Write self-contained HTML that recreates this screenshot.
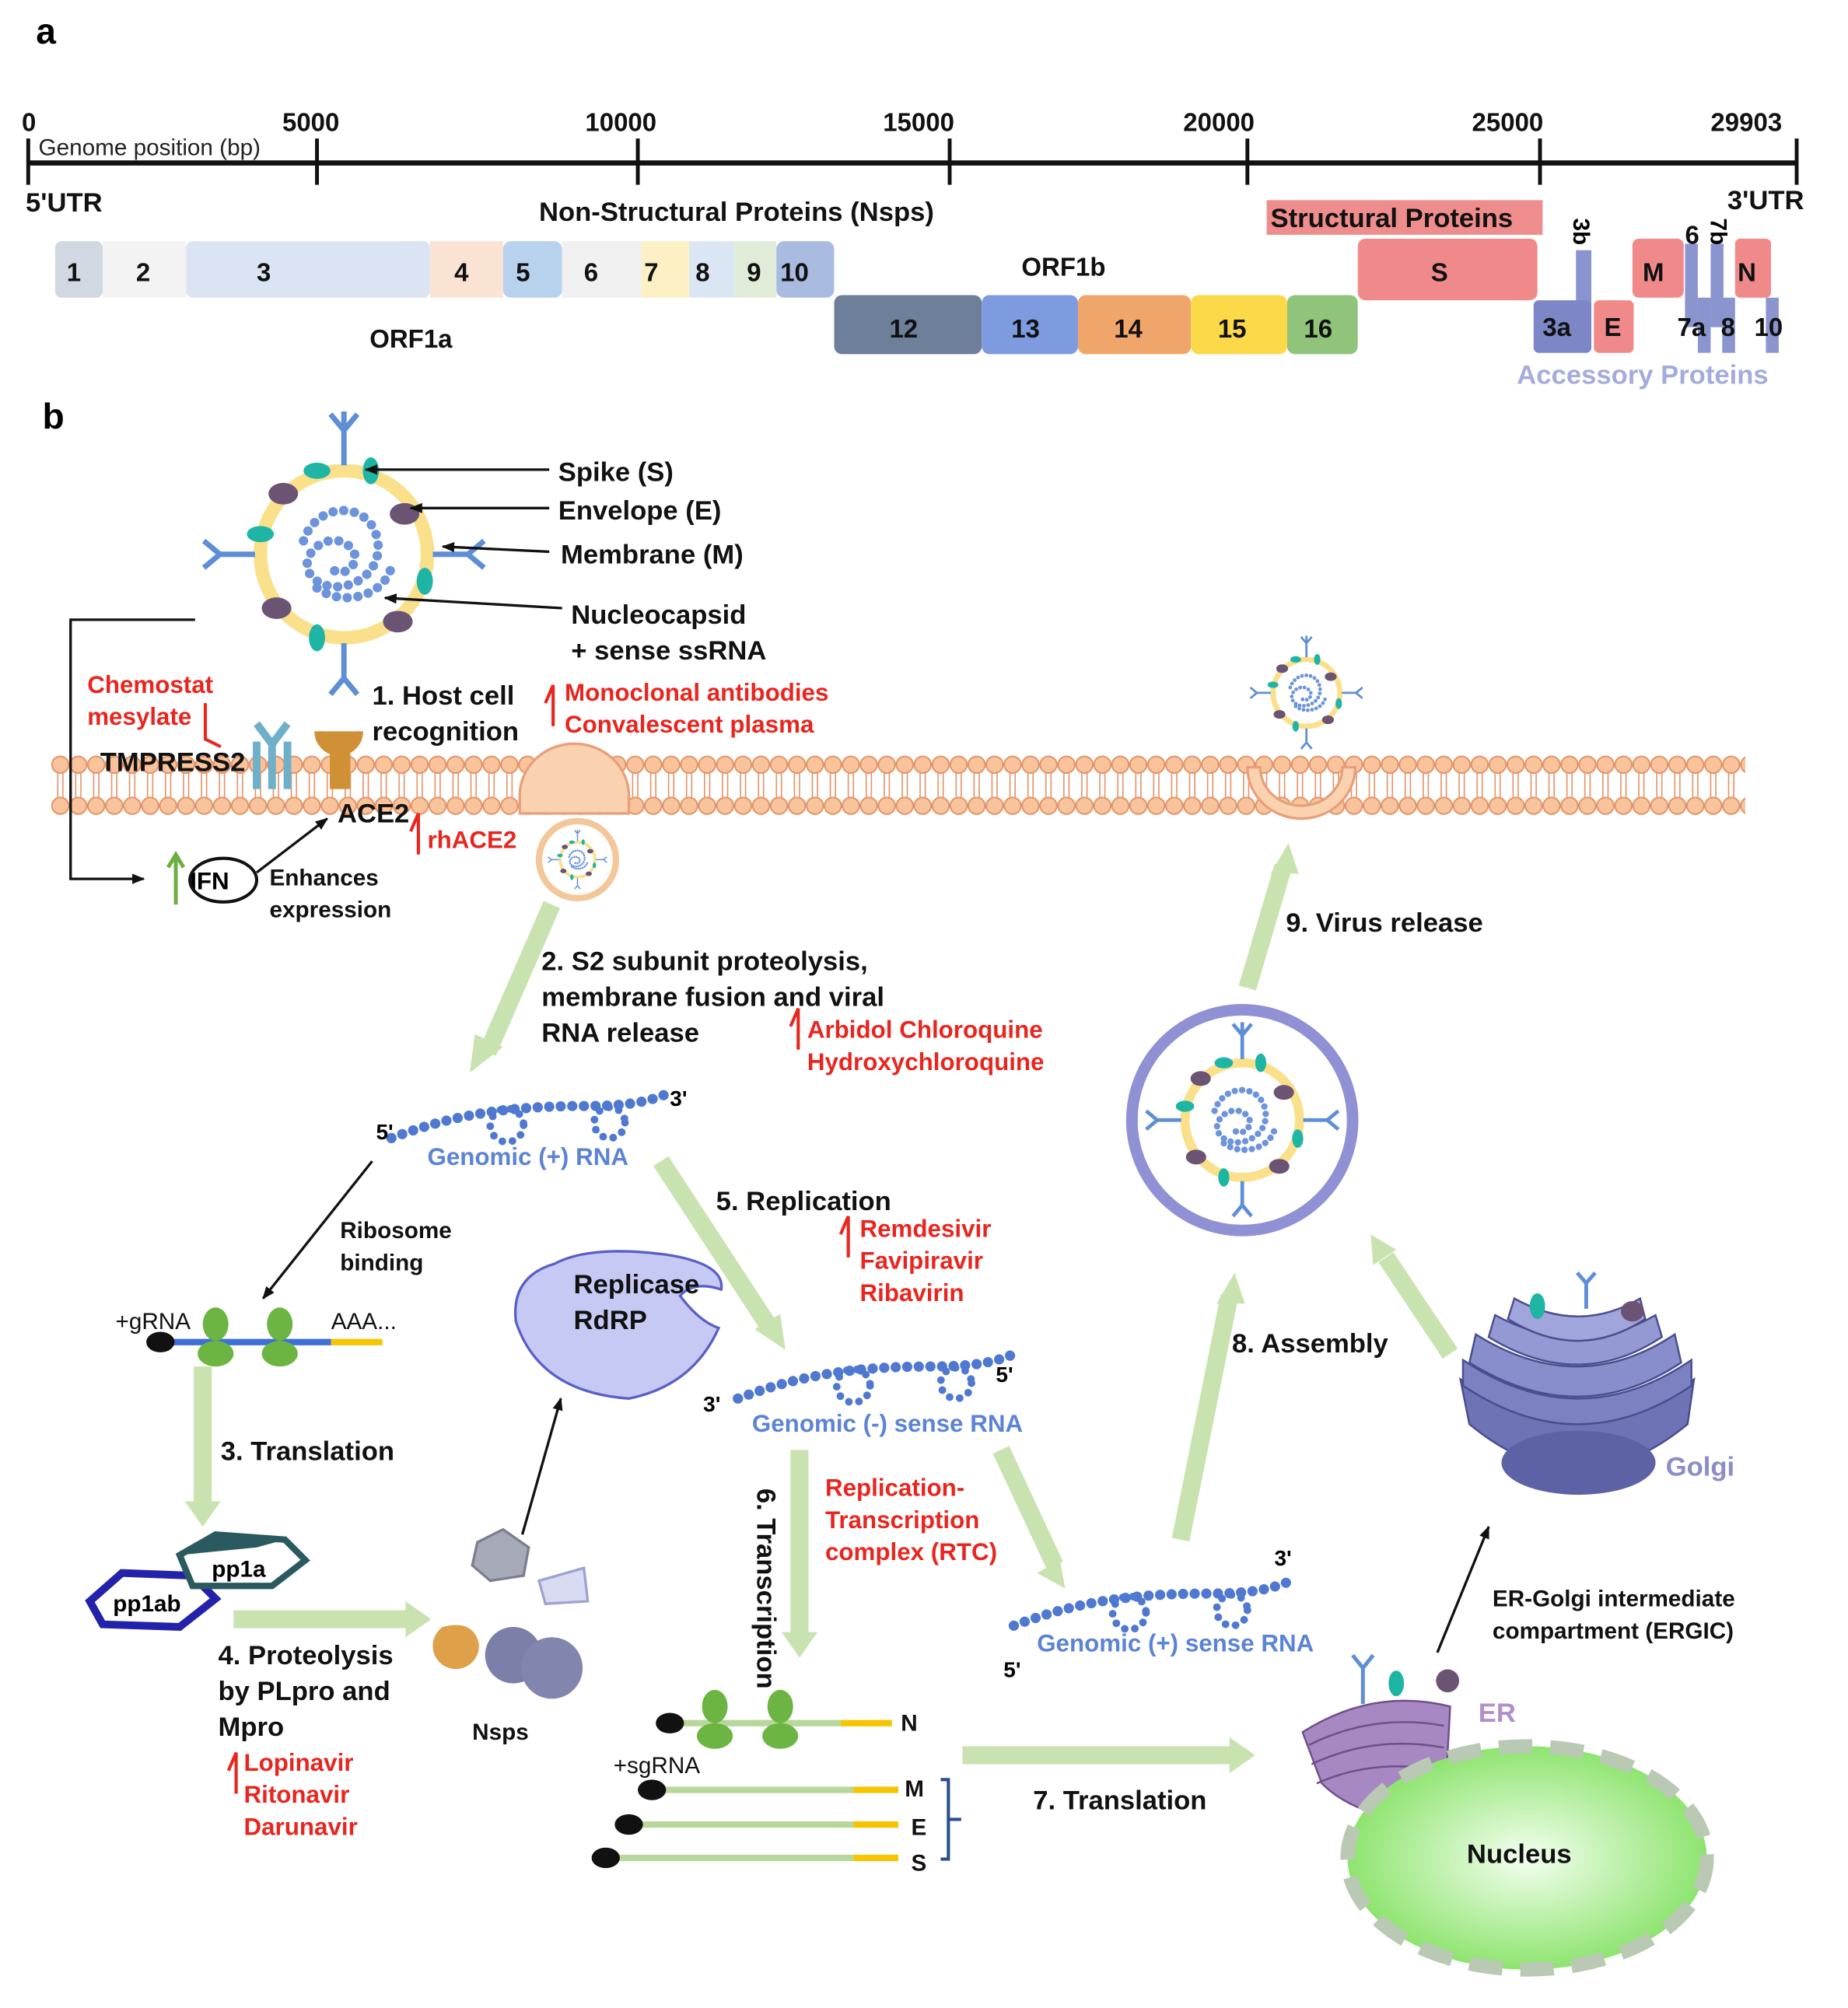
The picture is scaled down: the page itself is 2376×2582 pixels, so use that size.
<!DOCTYPE html>
<html><head><meta charset="utf-8"><style>
html,body{margin:0;padding:0;background:#fff}
svg{display:block}
text{font-family:"Liberation Sans",sans-serif;font-weight:bold}
.r{fill:#e8261f;font-size:19px}
.k{fill:#111;font-size:21px}
.bl{fill:#5b83d6;font-size:19px}
</style></head><body>
<svg width="2376" height="2582" viewBox="0 0 1440 1565" preserveAspectRatio="none" xmlns="http://www.w3.org/2000/svg">
<defs>
<pattern id="lip" width="14" height="48" patternUnits="userSpaceOnUse" x="40" y="588">
<circle cx="7" cy="8" r="6.5" fill="#f9c49c" stroke="#e2946a" stroke-width="1.2"/>
<circle cx="7" cy="40" r="6.5" fill="#f9c49c" stroke="#e2946a" stroke-width="1.2"/>
<path d="M5 14v10M9 14v10M5 24v10M9 24v10" stroke="#e2946a" stroke-width="1"/>
</pattern>
<radialGradient id="nuc" cx="50%" cy="50%" r="50%"><stop offset="0" stop-color="#f4fff0"/><stop offset="1" stop-color="#8ee46f"/></radialGradient>
<marker id="ah" markerWidth="10" markerHeight="10" refX="9" refY="5" orient="auto" markerUnits="userSpaceOnUse"><path d="M0 1L10 5L0 9z" fill="#111"/></marker>
<g id="virus">
<circle r="62" fill="none" stroke="#fbe08c" stroke-width="10"/>
<g fill="none" stroke="#6c93dc" stroke-width="7" stroke-dasharray="0 8" stroke-linecap="round">
<path d="M-30 -10 C-20 -40 20 -40 25 -10 C30 20 -10 35 -25 15 C-35 0 -10 -20 5 -5 C15 5 0 20 -10 10"/>
<path d="M-20 25 C0 40 30 30 35 10"/>
</g>
<g stroke="#5e8ed6" stroke-width="4" fill="none">
<path d="M0 -66V-92M0 -92l-10 -12M0 -92l10 -12M0 -92V-106"/>
<path d="M0 66V92M0 92l-10 12M0 92l10 12"/>
<path d="M-66 0H-92M-92 0l-12 -10M-92 0l-12 10"/>
<path d="M66 0H92M92 0l12 -10M92 0l12 10"/>
</g>
<g fill="#6b5473"><ellipse cx="-45" cy="-45" rx="11" ry="8"/><ellipse cx="45" cy="-30" rx="11" ry="8"/><ellipse cx="-50" cy="40" rx="11" ry="8"/><ellipse cx="40" cy="50" rx="11" ry="8"/></g>
<g fill="#1fb5a5"><ellipse cx="-20" cy="-62" rx="10" ry="6"/><ellipse cx="60" cy="20" rx="6" ry="10"/><ellipse cx="-62" cy="-15" rx="10" ry="6"/><ellipse cx="-20" cy="62" rx="6" ry="10"/><ellipse cx="20" cy="-62" rx="6" ry="10"/></g>
</g>
<g id="rna">
<path d="M0 5 C40 -10 80 -20 150 -20 C180 -20 200 -22 220 -32" fill="none" stroke="#4f78d1" stroke-width="8" stroke-dasharray="0 9" stroke-linecap="round"/>
<circle cx="90" cy="-5" r="13" fill="none" stroke="#4f78d1" stroke-width="6" stroke-dasharray="0 8" stroke-linecap="round"/>
<circle cx="170" cy="-7" r="12" fill="none" stroke="#4f78d1" stroke-width="6" stroke-dasharray="0 8" stroke-linecap="round"/>
</g>
</defs>
<rect width="1440" height="1565" fill="#fff"/>
<text x="28" y="34" style="font-size:28px">a</text>
<g style="font-size:20px" fill="#111">
<text x="17" y="102">0</text><text x="220" y="102">5000</text><text x="456" y="102">10000</text><text x="688" y="102">15000</text><text x="922" y="102">20000</text><text x="1147" y="102">25000</text><text x="1333" y="102">29903</text>
</g>
<text x="30" y="121" style="font-size:18px;font-weight:normal" fill="#222">Genome position (bp)</text>
<line x1="22" y1="127" x2="1400" y2="127" stroke="#111" stroke-width="4"/>
<g stroke="#111" stroke-width="3"><path d="M22 108v36M247 108v36M497 108v36M740 108v36M972 108v36M1200 108v36M1400 108v36"/></g>
<text x="20" y="165" class="k">5'UTR</text><text x="1346" y="163" class="k">3'UTR</text>
<text x="420" y="172" class="k">Non-Structural Proteins (Nsps)</text>
<rect x="987" y="156" width="215" height="27" fill="#ef8d8d"/><text x="990" y="177" class="k">Structural Proteins</text>
<g>
<rect x="43" y="188" width="37" height="44" rx="5" fill="#d2d8e2"/><rect x="80" y="188" width="65" height="44" fill="#f3f3f3"/><rect x="145" y="188" width="190" height="44" rx="5" fill="#dbe4f2"/>
<rect x="335" y="188" width="57" height="44" fill="#fbe3d4"/><rect x="392" y="188" width="46" height="44" rx="6" fill="#b8d2ee"/><rect x="438" y="188" width="62" height="44" fill="#f0f0f0"/>
<rect x="500" y="188" width="37" height="44" fill="#fdf0c4"/><rect x="537" y="188" width="35" height="44" fill="#dbe6f4"/><rect x="572" y="188" width="33" height="44" fill="#e0ecd8"/><rect x="605" y="188" width="45" height="44" rx="6" fill="#a9bbe0"/>
<rect x="650" y="230" width="115" height="46" rx="6" fill="#6e7f9a"/><rect x="765" y="230" width="75" height="46" rx="6" fill="#7f9be0"/><rect x="840" y="230" width="88" height="46" rx="6" fill="#f0a56a"/><rect x="928" y="230" width="75" height="46" rx="6" fill="#fbd949"/><rect x="1003" y="230" width="55" height="46" rx="6" fill="#8fc47a"/>
<rect x="1058" y="186" width="140" height="48" rx="6" fill="#f08a8a"/>
<rect x="1228" y="195" width="12" height="55" fill="#8a95cf"/>
<rect x="1195" y="234" width="45" height="41" rx="4" fill="#7d87c7"/><rect x="1242" y="234" width="31" height="41" rx="4" fill="#f08a8a"/>
<rect x="1272" y="186" width="40" height="46" rx="5" fill="#f08a8a"/><rect x="1352" y="186" width="28" height="46" rx="4" fill="#f08a8a"/>
<rect x="1313" y="190" width="10" height="65" fill="#8a95cf"/><rect x="1333" y="190" width="10" height="65" fill="#8a95cf"/>
<rect x="1323" y="232" width="10" height="43" fill="#8a95cf"/><rect x="1342" y="232" width="10" height="43" fill="#8a95cf"/><rect x="1376" y="232" width="10" height="43" fill="#8a95cf"/>
</g>
<g class="k" style="font-size:20px" fill="#111">
<text x="52" y="219">1</text><text x="106" y="219">2</text><text x="200" y="219">3</text><text x="354" y="219">4</text><text x="402" y="219">5</text><text x="455" y="219">6</text><text x="502" y="219">7</text><text x="542" y="219">8</text><text x="582" y="219">9</text><text x="608" y="219">10</text>
<text x="693" y="263">12</text><text x="788" y="263">13</text><text x="868" y="263">14</text><text x="949" y="263">15</text><text x="1016" y="263">16</text>
<text x="1115" y="219">S</text><text x="1280" y="219">M</text><text x="1354" y="219">N</text><text x="1202" y="262">3a</text><text x="1250" y="262">E</text>
<text x="1307" y="262">7a</text><text x="1341" y="262">8</text><text x="1367" y="262">10</text><text x="1313" y="190">6</text>
<text x="288" y="271">ORF1a</text><text x="796" y="215">ORF1b</text>
</g>
<text transform="translate(1226 170) rotate(90)" style="font-size:18px">3b</text>
<text transform="translate(1333 170) rotate(90)" style="font-size:18px">7b</text>
<text x="1182" y="299" style="font-size:21px" fill="#a4abdd">Accessory Proteins</text>
<text x="33" y="334" style="font-size:28px">b</text>
<rect x="40" y="588" width="1320" height="48" fill="url(#lip)"/>
<use href="#virus" transform="translate(268 432) scale(1.05)"/>
<g stroke="#111" stroke-width="2" fill="none">
<line x1="428" y1="366" x2="285" y2="366" marker-end="url(#ah)"/>
<line x1="428" y1="396" x2="320" y2="396" marker-end="url(#ah)"/>
<line x1="428" y1="430" x2="345" y2="426" marker-end="url(#ah)"/>
<line x1="438" y1="474" x2="300" y2="466" marker-end="url(#ah)"/>
<path d="M152 483H55V685H112" marker-end="url(#ah)"/>
<line x1="200" y1="680" x2="255" y2="638" marker-end="url(#ah)"/>
<line x1="290" y1="905" x2="205" y2="1012" marker-end="url(#ah)"/>
<line x1="407" y1="1196" x2="437" y2="1090" marker-end="url(#ah)"/>
<line x1="1120" y1="1288" x2="1160" y2="1190" marker-end="url(#ah)"/>
</g>
<g class="k">
<text x="435" y="375">Spike (S)</text><text x="435" y="405">Envelope (E)</text><text x="437" y="439">Membrane (M)</text>
<text x="445" y="486">Nucleocapsid</text><text x="445" y="514">+ sense ssRNA</text>
<text x="290" y="549">1. Host cell</text><text x="290" y="577">recognition</text>
<text x="78" y="601">TMPRESS2</text><text x="263" y="641">ACE2</text>
<text x="422" y="756">2. S2 subunit  proteolysis,</text><text x="422" y="784">membrane fusion and viral</text><text x="422" y="812">RNA release</text>
<text x="558" y="943">5. Replication</text>
<text x="1002" y="726">9. Virus release</text>
<text x="960" y="1054">8. Assembly</text>
<text x="172" y="1138">3. Translation</text>
<text x="170" y="1297">4. Proteolysis</text><text x="170" y="1325">by PLpro and</text><text x="170" y="1353">Mpro</text>
<text x="805" y="1410">7. Translation</text>
</g>
<g style="font-size:18px" fill="#111">
<text x="210" y="690">Enhances</text><text x="210" y="715">expression</text>
<text x="265" y="965">Ribosome</text><text x="265" y="990">binding</text>
<text x="1163" y="1252">ER-Golgi intermediate</text><text x="1163" y="1277">compartment (ERGIC)</text>
<text x="368" y="1356">Nsps</text>
<text x="90" y="1036" style="font-weight:normal">+gRNA</text><text x="258" y="1036" style="font-weight:normal">AAA...</text>
<text x="478" y="1382" style="font-weight:normal">+sgRNA</text>
<text x="702" y="1349">N</text><text x="705" y="1400">M</text><text x="710" y="1430">E</text><text x="710" y="1458">S</text>
</g>
<text transform="translate(590 1160) rotate(90)" class="k">6. Transcription</text>
<g class="r">
<text x="68" y="540">Chemostat</text><text x="68" y="565">mesylate</text>
<text x="440" y="546">Monoclonal antibodies</text><text x="440" y="571">Convalescent plasma</text>
<text x="333" y="661">rhACE2</text>
<text x="629" y="809">Arbidol Chloroquine</text><text x="629" y="834">Hydroxychloroquine</text>
<text x="670" y="964">Remdesivir</text><text x="670" y="989">Favipiravir</text><text x="670" y="1014">Ribavirin</text>
<text x="643" y="1166">Replication-</text><text x="643" y="1191">Transcription</text><text x="643" y="1216">complex (RTC)</text>
<text x="190" y="1380">Lopinavir</text><text x="190" y="1405">Ritonavir</text><text x="190" y="1430">Darunavir</text>
</g>
<g stroke="#e8261f" stroke-width="2.5" fill="none">
<path d="M160 548v28l12 6M425 548l6 -14v32M320 648l6 -14v32M616 800l6 -14v32M655 962l6 -14v32M178 1380l6 -14v32"/>
</g>
<g stroke="#6fb0c8" stroke-width="6" fill="none"><path d="M212 615V580M212 580l-12 -16M212 580l12 -16M200 615V578M224 615V578"/></g>
<path d="M260 612V585 a10 10 0 0 1 10 0V612z M248 570 a16 16 0 0 0 32 0" fill="#d09136" stroke="#d09136" stroke-width="6"/>
<text x="148" y="693" style="font-size:19px">IFN</text><ellipse cx="174" cy="686" rx="26" ry="17" fill="none" stroke="#111" stroke-width="2.5"/>
<path d="M137 705V668M131 676l6 -10 6 10" stroke="#6cae40" stroke-width="3" fill="none"/>
<path d="M405 620 a40 38 0 0 1 85 0 v14 h-85z" fill="#fbd2b0" stroke="#e8a07a" stroke-width="2"/>
<circle cx="450" cy="670" r="30" fill="#fff" stroke="#f4c79a" stroke-width="5"/>
<use href="#virus" transform="translate(450 670) scale(0.22)"/>
<path d="M972 598 a42 40 0 0 0 84 0 h-10 a32 30 0 0 1 -64 0z" fill="#fbd2b0" stroke="#e8a07a" stroke-width="2"/>
<use href="#virus" transform="translate(1018 540) scale(0.42)"/>
<g stroke="#c9e3b0" stroke-width="14" fill="none" stroke-linecap="butt">
<path d="M430 705L380 820"/><path d="M515 905L600 1035"/><path d="M158 1065V1172"/><path d="M182 1262H320"/><path d="M623 1130V1274"/><path d="M780 1130L822 1220"/><path d="M750 1368H960"/><path d="M920 1200L958 1010"/><path d="M1130 1055L1080 980"/><path d="M972 770L1000 675"/>
</g>
<g fill="#c9e3b0">
<path d="M366 836l4 -30 22 10z"/><path d="M612 1052l-24 -16 20 -12z"/><path d="M158 1190l-14 -20h28z"/><path d="M336 1262l-20 -14v28z"/><path d="M623 1292l-14 -20h28z"/><path d="M830 1238l-22 -12 18 -10z"/><path d="M978 1368l-20 -14v28z"/><path d="M962 992l8 24h-22z"/><path d="M1068 962l2 24 18 -12z"/><path d="M1004 657l8 24h-22z"/>
</g>
<use href="#rna" transform="translate(305 882)"/>
<text x="293" y="888" style="font-size:17px">5'</text><text x="522" y="862" style="font-size:17px">3'</text>
<text x="333" y="908" class="bl">Genomic (+) RNA</text>
<use href="#rna" transform="translate(575 1085)"/>
<text x="548" y="1100" style="font-size:17px">3'</text><text x="776" y="1077" style="font-size:17px">5'</text>
<text x="586" y="1116" class="bl">Genomic (-) sense RNA</text>
<use href="#rna" transform="translate(790 1262)"/>
<text x="782" y="1307" style="font-size:17px">5'</text><text x="993" y="1220" style="font-size:17px">3'</text>
<text x="808" y="1287" class="bl">Genomic (+) sense RNA</text>
<line x1="125" y1="1046" x2="258" y2="1046" stroke="#3d6fd6" stroke-width="5"/><line x1="258" y1="1046" x2="298" y2="1046" stroke="#f6c400" stroke-width="5"/>
<ellipse cx="125" cy="1046" rx="11" ry="8" fill="#111"/>
<g fill="#6cb543"><ellipse cx="168" cy="1032" rx="10" ry="13"/><ellipse cx="168" cy="1055" rx="14" ry="10"/><ellipse cx="218" cy="1032" rx="10" ry="13"/><ellipse cx="218" cy="1055" rx="14" ry="10"/></g>
<g stroke-width="5"><line x1="522" y1="1343" x2="655" y2="1343" stroke="#b7d89a"/><line x1="655" y1="1343" x2="695" y2="1343" stroke="#f6c400"/>
<line x1="508" y1="1395" x2="665" y2="1395" stroke="#b7d89a"/><line x1="665" y1="1395" x2="700" y2="1395" stroke="#f6c400"/>
<line x1="490" y1="1422" x2="665" y2="1422" stroke="#b7d89a"/><line x1="665" y1="1422" x2="700" y2="1422" stroke="#f6c400"/>
<line x1="472" y1="1448" x2="665" y2="1448" stroke="#b7d89a"/><line x1="665" y1="1448" x2="700" y2="1448" stroke="#f6c400"/></g>
<g fill="#111"><ellipse cx="522" cy="1343" rx="11" ry="8"/><ellipse cx="508" cy="1395" rx="11" ry="8"/><ellipse cx="490" cy="1422" rx="11" ry="8"/><ellipse cx="472" cy="1448" rx="11" ry="8"/></g>
<g fill="#6cb543"><ellipse cx="557" cy="1330" rx="10" ry="13"/><ellipse cx="557" cy="1353" rx="14" ry="10"/><ellipse cx="608" cy="1330" rx="10" ry="13"/><ellipse cx="608" cy="1353" rx="14" ry="10"/></g>
<path d="M733 1387h6v62h-6M739 1418h10" stroke="#2a4d8f" stroke-width="2.5" fill="none"/>
<path d="M432 985 Q460 970 520 978 Q565 985 562 1005 Q540 998 530 1010 Q545 1030 560 1035 Q540 1080 490 1090 Q420 1085 402 1030 Q398 995 432 985z" fill="#c6c9f4" stroke="#5a5fc7" stroke-width="2"/>
<text x="447" y="1008" class="k">Replicase</text><text x="447" y="1036" class="k">RdRP</text>
<path d="M70 1248 L95 1226 L150 1228 L168 1246 L140 1268 L80 1266z" fill="#fff" stroke="#2222aa" stroke-width="6"/>
<path d="M140 1212 L168 1196 L222 1200 L238 1216 L212 1236 L150 1236z" fill="#fff" stroke="#2a5a60" stroke-width="5"/>
<path d="M140 1212 L168 1196 L222 1200 L200 1206z" fill="#2a5a60"/>
<text x="88" y="1256" style="font-size:18px">pp1ab</text><text x="165" y="1229" style="font-size:18px">pp1a</text>
<path d="M372 1202 L392 1192 L412 1206 L408 1228 L382 1232 L368 1220z" fill="#a6a9b8" stroke="#7c7e90" stroke-width="2"/>
<path d="M420 1232 L455 1222 L458 1248 L425 1250z" fill="#d8dbf1" stroke="#9ea2cf" stroke-width="2"/>
<path d="M345 1268 a18 18 0 1 0 28 12 Q368 1262 345 1268" fill="#dea14a"/>
<circle cx="400" cy="1290" r="22" fill="#7c7fa8"/><circle cx="430" cy="1300" r="24" fill="#8285ad"/>
<circle cx="968" cy="873" r="86" fill="#fff" stroke="#8f91d4" stroke-width="9"/>
<use href="#virus" transform="translate(968 873) scale(0.72)"/>
<g stroke="#4a4e8e" stroke-width="1.5">
<path d="M1138 1075 Q1230 1135 1320 1075 L1315 1110 Q1230 1180 1145 1110z" fill="#6e73b6"/>
<path d="M1140 1060 Q1230 1120 1318 1060 L1318 1080 Q1230 1140 1140 1080z" fill="#7c81c2"/>
<path d="M1150 1040 Q1230 1090 1305 1040 L1310 1062 Q1230 1115 1145 1062z" fill="#888dcc"/>
<path d="M1165 1025 Q1230 1060 1290 1025 L1295 1042 Q1230 1085 1160 1042z" fill="#9499d4"/>
<path d="M1180 1012 Q1230 1040 1278 1012 L1282 1028 Q1230 1062 1175 1028z" fill="#a0a5dc"/>
</g>
<ellipse cx="1230" cy="1140" rx="60" ry="25" fill="#5d62a6"/>
<text x="1298" y="1150" style="font-size:21px" fill="#8a8ec6">Golgi</text>
<path d="M1236 1020V1000M1236 1000l-7 -8M1236 1000l7 -8" stroke="#5e8ed6" stroke-width="3" fill="none"/>
<ellipse cx="1198" cy="1018" rx="6" ry="10" fill="#1fb5a5"/><ellipse cx="1272" cy="1022" rx="9" ry="8" fill="#6b5473"/>
<g fill="#a888c2" stroke="#6f4f8a" stroke-width="1.5">
<path d="M1015 1350 Q1070 1315 1130 1330 L1125 1420 Q1060 1420 1030 1390z"/>
<path d="M1020 1360 Q1070 1335 1125 1345" fill="none"/><path d="M1022 1375 Q1070 1352 1125 1362" fill="none"/><path d="M1026 1390 Q1070 1370 1125 1380" fill="none"/>
</g>
<path d="M1062 1328V1300M1062 1300l-8 -10M1062 1300l8 -10" stroke="#5e8ed6" stroke-width="3" fill="none"/>
<ellipse cx="1088" cy="1312" rx="6" ry="10" fill="#1fb5a5"/><ellipse cx="1128" cy="1310" rx="9" ry="9" fill="#6b5473"/>
<text x="1152" y="1342" style="font-size:21px" fill="#b18fcc">ER</text>
<ellipse cx="1190" cy="1448" rx="140" ry="87" fill="url(#nuc)"/>
<ellipse cx="1190" cy="1448" rx="140" ry="87" fill="none" stroke="#b9c9b4" stroke-width="11" stroke-dasharray="26 14"/>
<text x="1143" y="1452" class="k">Nucleus</text>
</svg>
</body></html>
